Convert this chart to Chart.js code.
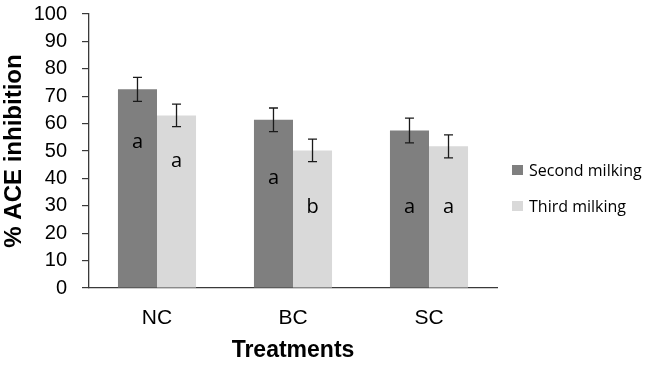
<!DOCTYPE html>
<html>
<head>
<meta charset="utf-8">
<script src="https://cdn.jsdelivr.net/npm/chart.js@4"></script>
<style>
    html, body { margin: 0; padding: 0; background: #fff; }
    #wrap { position: relative; width: 646px; height: 366px; }
    #legend { position: absolute; left: 512px; top: 158px; font-family: "Open Sans", sans-serif; font-size: 16px; color: #000; }
    .legend-item { display: flex; align-items: center; height: 24px; margin-bottom: 12px; }
    .legend-box { width: 11px; height: 10px; margin-right: 6px; }
</style>
</head>
<body>
<div id="wrap">
    <canvas id="chart" width="646" height="366"></canvas>
    <div id="legend"></div>
</div>
<script>
// Chart data
const categories = ["NC", "BC", "SC"];
const seriesNames = ["Second milking", "Third milking"];
const secondMilking = [72.5, 61.4, 57.5];
const thirdMilking = [63.0, 50.2, 51.7];
const secondError = [4.4, 4.3, 4.5];
const thirdError = [4.1, 4.1, 4.2];
const secondLetters = ["a", "a", "a"];
const thirdLetters = ["a", "b", "a"];
// value where the letter baseline sits inside each bar
const secondLetterAt = [51, 38, 27.5];
const thirdLetterAt = [44, 27.5, 27.5];
const yMin = 0, yMax = 100, yStep = 10;

const colors = ["#7f7f7f", "#d9d9d9"];

// Draws error bars and significance letters on top of bars
const barExtras = {
    id: "barExtras",
    afterDatasetsDraw(chart) {
        const ctx = chart.ctx;
        const yScale = chart.scales.y;
        chart.data.datasets.forEach((ds, i) => {
            const meta = chart.getDatasetMeta(i);
            meta.data.forEach((bar, j) => {
                const v = ds.data[j];
                const e = ds.errors[j];
                const top = yScale.getPixelForValue(v + e);
                const bot = yScale.getPixelForValue(v - e);
                ctx.save();
                ctx.strokeStyle = "#1a1a1a";
                ctx.lineWidth = 1.3;
                ctx.beginPath();
                ctx.moveTo(bar.x, top);
                ctx.lineTo(bar.x, bot);
                ctx.moveTo(bar.x - 4.5, top);
                ctx.lineTo(bar.x + 4.5, top);
                ctx.moveTo(bar.x - 4.5, bot);
                ctx.lineTo(bar.x + 4.5, bot);
                ctx.stroke();

                ctx.fillStyle = "#000";
                ctx.font = "20px 'Open Sans', sans-serif";
                ctx.textAlign = "center";
                ctx.textBaseline = "alphabetic";
                ctx.fillText(ds.letters[j], bar.x, yScale.getPixelForValue(ds.letterAt[j]));
                ctx.restore();
            });
        });
    }
};

const ctx = document.getElementById("chart").getContext("2d");
const chart = new Chart(ctx, {
    type: "bar",
    data: {
        labels: categories,
        datasets: [
            {
                label: seriesNames[0],
                data: secondMilking,
                errors: secondError,
                letters: secondLetters,
                letterAt: secondLetterAt,
                backgroundColor: colors[0],
                categoryPercentage: 0.574,
                barPercentage: 1.0
            },
            {
                label: seriesNames[1],
                data: thirdMilking,
                errors: thirdError,
                letters: thirdLetters,
                letterAt: thirdLetterAt,
                backgroundColor: colors[1],
                categoryPercentage: 0.574,
                barPercentage: 1.0
            }
        ]
    },
    options: {
        responsive: false,
        animation: false,
        layout: { padding: { left: 0, right: 149, top: 14, bottom: 2 } },
        plugins: {
            legend: { display: false },
            tooltip: { enabled: false }
        },
        scales: {
            x: {
                grid: { display: false, drawTicks: false },
                border: { display: true, color: "#3a3a3a", width: 1.3 },
                ticks: {
                    color: "#000",
                    font: { family: "'Liberation Sans', Arial, sans-serif", size: 21 },
                    padding: 18
                },
                title: {
                    display: true,
                    text: "Treatments",
                    color: "#000",
                    font: { family: "'Liberation Sans', Arial, sans-serif", size: 23, weight: "bold" },
                    padding: { top: 0, bottom: 0 }
                },
                afterFit(scale) {
                    scale.height = 366 - 288 - 2;
                    scale.paddingLeft = 0;
                    scale.paddingRight = 0;
                }
            },
            y: {
                min: yMin,
                max: yMax,
                ticks: {
                    stepSize: yStep,
                    autoSkip: false,
                    color: "#000",
                    font: { family: "'Liberation Sans', Arial, sans-serif", size: 20 },
                    padding: 15
                },
                grid: { drawOnChartArea: false, drawTicks: true, tickLength: 7, color: "#3a3a3a", lineWidth: 1.2 },
                border: { display: true, color: "#3a3a3a", width: 1.3 },
                title: {
                    display: true,
                    text: "% ACE inhibition",
                    color: "#000",
                    font: { family: "'Liberation Sans', Arial, sans-serif", size: 24, weight: "bold" },
                    padding: { top: 0, bottom: 0 }
                },
                afterFit(scale) {
                    scale.width = 89;
                    scale.paddingTop = 0;
                    scale.paddingBottom = 0;
                }
            }
        }
    },
    plugins: [barExtras]
});

// HTML legend built from the datasets
document.getElementById("legend").innerHTML = chart.data.datasets.map(ds => `
    <div class="legend-item">
        <span class="legend-box" style="background:${ds.backgroundColor}"></span>
        <span>${ds.label}</span>
    </div>
`).join("");
</script>
</body>
</html>
